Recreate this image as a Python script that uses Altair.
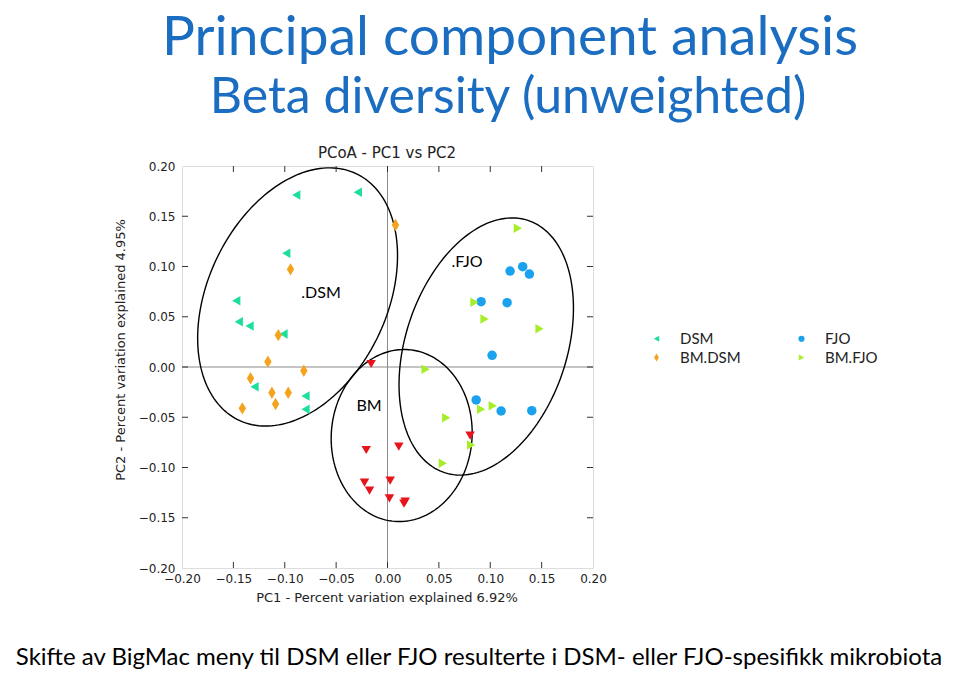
import altair as alt
import numpy as np
import pandas as pd

# ---------------- data ----------------
dsm_x = [-0.0888, -0.0289, -0.0985, -0.1472, -0.1447, -0.1342, -0.1012, -0.1294, -0.0798, -0.0798]
dsm_y = [0.1711, 0.1738, 0.1131, 0.0660, 0.0451, 0.0408, 0.0328, -0.0196, -0.0289, -0.0421]
bmdsm_x = [-0.0944, -0.1063, -0.1164, -0.0814, -0.1333, -0.1125, -0.0966, -0.1089, -0.1413, 0.0078]
bmdsm_y = [0.0972, 0.0318, 0.0053, -0.0037, -0.0112, -0.0256, -0.0256, -0.0368, -0.0411, 0.1413]
fjo_x = [0.1193, 0.1316, 0.1381, 0.0911, 0.1164, 0.1018, 0.0863, 0.1106, 0.1404]
fjo_y = [0.0955, 0.0998, 0.0925, 0.0650, 0.0640, 0.0116, -0.0328, -0.0438, -0.0435]
bmfjo_x = [0.1268, 0.0846, 0.0944, 0.1479, 0.0370, 0.0571, 0.0538, 0.0814, 0.0911, 0.1024]
bmfjo_y = [0.1380, 0.0644, 0.0478, 0.0381, -0.0023, -0.0504, -0.0958, -0.0776, -0.0421, -0.0385]
bm_x = [-0.0159, -0.0207, 0.0110, -0.0224, -0.0175, 0.0026, 0.0019, 0.0172, 0.0160, 0.0804]
bm_y = [0.0030, -0.0826, -0.0793, -0.1151, -0.1231, -0.1131, -0.1307, -0.1340, -0.1360, -0.0683]

groups = ["DSM", "FJO", "BM.DSM", "BM.FJO", "BM"]
legend_groups = ["DSM", "BM.DSM", "FJO", "BM.FJO"]
group_colors = ["#1EDE9C", "#1BA2EE", "#F5A31E", "#A6EE2A", "#E8141C"]
group_shapes = ["triangle-left", "circle", "M0,-1.3L0.78,0L0,1.3L-0.78,0Z", "triangle-right", "triangle-down"]

tick_values = [-0.20, -0.15, -0.10, -0.05, 0.00, 0.05, 0.10, 0.15, 0.20]
inner_ticks = [-0.15, -0.10, -0.05, 0.00, 0.05, 0.10, 0.15]

# annotation ellipses (centre, semi-axes, rotation in degrees)
ell_names = ["DSM", "FJO", "BM"]
ell_cx = [-0.0875, 0.0961, 0.0138]
ell_cy = [0.0697, 0.0204, -0.0682]
ell_a = [0.1353, 0.1319, 0.0857]
ell_b = [0.0875, 0.0786, 0.0685]
ell_angle = [65.7, 72.4, 85.5]

title1 = "Principal component analysis"
title2 = "Beta diversity (unweighted)"
caption = "Skifte av BigMac meny til DSM eller FJO resulterte i DSM- eller FJO-spesifikk mikrobiota"
plot_title = "PCoA - PC1 vs PC2"
x_title = "PC1 - Percent variation explained 6.92%"
y_title = "PC2 - Percent variation explained 4.95%"

# ---------------- tables ----------------
rows = []
for g, xs_, ys_ in [("DSM", dsm_x, dsm_y), ("BM.DSM", bmdsm_x, bmdsm_y),
                    ("FJO", fjo_x, fjo_y), ("BM.FJO", bmfjo_x, bmfjo_y),
                    ("BM", bm_x, bm_y)]:
    for a, b in zip(xs_, ys_):
        rows.append({"group": g, "x": a, "y": b})
df = pd.DataFrame(rows)

t = np.linspace(0, 2 * np.pi, 181)
ell_rows = []
for n, cx, cy, a, b, ang in zip(ell_names, ell_cx, ell_cy, ell_a, ell_b, ell_angle):
    th = np.deg2rad(ang)
    ex = cx + a * np.cos(t) * np.cos(th) - b * np.sin(t) * np.sin(th)
    ey = cy + a * np.cos(t) * np.sin(th) + b * np.sin(t) * np.cos(th)
    for i, (p, q) in enumerate(zip(ex, ey)):
        ell_rows.append({"name": n, "i": i, "x": p, "y": q})
df_ell = pd.DataFrame(ell_rows)
df_ticks = pd.DataFrame({"v": inner_ticks})
one = pd.DataFrame({"k": [0]})

W, H = 411, 402
xs = alt.Scale(domain=[-0.2, 0.2], nice=False, zero=False)
ys = alt.Scale(domain=[-0.2, 0.2], nice=False, zero=False)

xaxis = alt.Axis(
    title=None, values=tick_values, format=".2f", ticks=False, domain=False, grid=False,
    labelFont="DejaVu Sans", labelFontSize=12, labelColor="#222", labelPadding=5,
    labelFlush=False, labelOverlap=False)
yaxis = alt.Axis(
    title=None, values=tick_values, format=".2f", ticks=False, domain=False, grid=False,
    labelFont="DejaVu Sans", labelFontSize=12, labelColor="#222", labelPadding=7,
    labelFlush=False, labelOverlap=False)

legend = alt.Legend(
    title=None, orient="none", legendX=467, legendY=165, columns=2,
    values=legend_groups, labelFont="Lato", labelFontSize=15, labelColor="#222",
    symbolSize=38, labelOffset=16, columnPadding=53, rowPadding=3, padding=0,
    symbolStrokeWidth=0,
)

points = alt.Chart(df).mark_point(filled=True, opacity=1, size=90).encode(
    x=alt.X("x:Q", scale=xs, axis=xaxis),
    y=alt.Y("y:Q", scale=ys, axis=yaxis),
    color=alt.Color("group:N", scale=alt.Scale(domain=groups, range=group_colors), legend=legend),
    shape=alt.Shape("group:N", scale=alt.Scale(domain=groups, range=group_shapes), legend=legend),
)

zero_x = alt.Chart(one).mark_rule(color="#8a8a8a", strokeWidth=1).encode(x=alt.X(datum=0, scale=xs, axis=xaxis))
zero_y = alt.Chart(one).mark_rule(color="#8a8a8a", strokeWidth=1).encode(y=alt.Y(datum=0, scale=ys, axis=yaxis))

tk = dict(color="#333", strokeWidth=1)
tick_b = alt.Chart(df_ticks).mark_rule(**tk).encode(x=alt.X("v:Q", scale=xs, axis=xaxis), y=alt.value(H - 6), y2=alt.value(H))
tick_t = alt.Chart(df_ticks).mark_rule(**tk).encode(x=alt.X("v:Q", scale=xs, axis=xaxis), y=alt.value(0), y2=alt.value(6))
tick_l = alt.Chart(df_ticks).mark_rule(**tk).encode(y=alt.Y("v:Q", scale=ys, axis=yaxis), x=alt.value(0), x2=alt.value(6))
tick_r = alt.Chart(df_ticks).mark_rule(**tk).encode(y=alt.Y("v:Q", scale=ys, axis=yaxis), x=alt.value(W - 6), x2=alt.value(W))

ellipses = alt.Chart(df_ell).mark_line(color="black", strokeWidth=1.4).encode(
    x=alt.X("x:Q", scale=xs, axis=xaxis),
    y=alt.Y("y:Q", scale=ys, axis=yaxis),
    detail="name:N",
    order="i:Q",
)

def txt(s, x, y, **kw):
    return alt.Chart(one).mark_text(text=s, **kw).encode(x=alt.value(x), y=alt.value(y))

slide_blue = "#1A6DC0"
texts = [
    txt(title1, 328, -111, font="Lato", fontSize=55, color=slide_blue, align="center", baseline="alphabetic"),
    txt(title2, 326, -53, font="Lato", fontSize=50, color=slide_blue, align="center", baseline="alphabetic"),
    txt(caption, 297, 499, font="Lato", fontSize=24, color="black", align="center", baseline="alphabetic"),
    txt(plot_title, 205, -8, font="DejaVu Sans", fontSize=15, color="#222", align="center", baseline="alphabetic"),
    txt(x_title, 205, 436, font="DejaVu Sans", fontSize=13, color="#222", align="center", baseline="alphabetic"),
    txt(y_title, -57, 184, font="DejaVu Sans", fontSize=13, color="#222", align="center", baseline="alphabetic", angle=270),
    txt(".DSM", 139, 132, font="Lato", fontSize=16, color="black", align="center", baseline="alphabetic"),
    txt(".FJO", 285, 101, font="Lato", fontSize=16, color="black", align="center", baseline="alphabetic"),
    txt("BM", 187, 245, font="Lato", fontSize=16, color="black", align="center", baseline="alphabetic"),
]

chart = alt.layer(
    zero_x, zero_y, ellipses, points, tick_b, tick_t, tick_l, tick_r, *texts
).properties(
    width=W, height=H,
    autosize=alt.AutoSizeParams(type="none"),
    padding={"left": 174, "top": 158, "right": 359, "bottom": 104},
).configure_view(stroke="#333", strokeWidth=1).configure(background="white")

chart.save("out.html", embed_options={"renderer": "svg", "actions": False})
